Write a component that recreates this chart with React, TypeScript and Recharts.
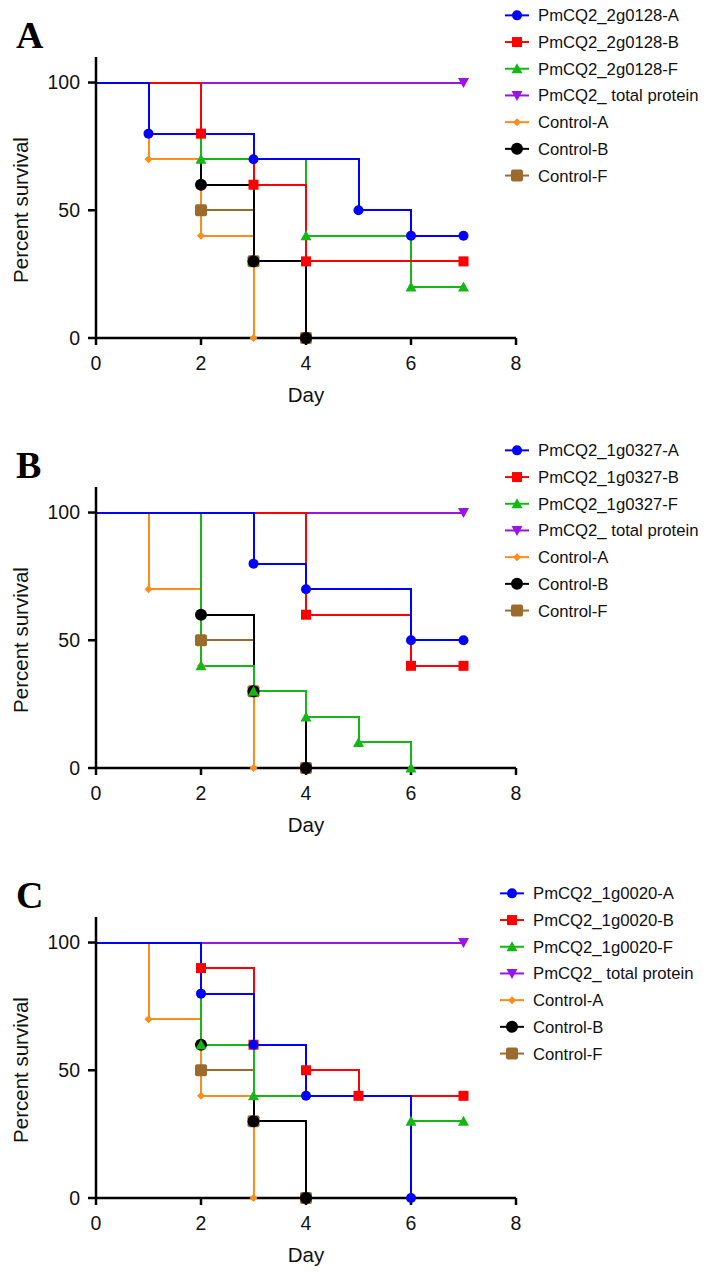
import { Legend, Line, LineChart, XAxis, YAxis } from "recharts";

const days = [0, 1, 2, 3, 4, 5, 6, 7];
const totalProtein = [100, 100, 100, 100, 100, 100, 100, 100];
const controlA = [100, 70, 40, 0, null, null, null, null];
const controlB = [100, 100, 60, 30, 0, null, null, null];
const controlF = [100, 100, 50, 30, 0, null, null, null];

const g2g0128A = [100, 80, 80, 70, 70, 50, 40, 40];
const g2g0128B = [100, 100, 80, 60, 30, 30, 30, 30];
const g2g0128F = [100, 100, 70, 70, 40, 40, 20, 20];

const g1g0327A = [100, 100, 100, 80, 70, 70, 50, 50];
const g1g0327B = [100, 100, 100, 100, 60, 60, 40, 40];
const g1g0327F = [100, 100, 40, 30, 20, 10, 0, null];

const g1g0020A = [100, 100, 80, 60, 40, 40, 0, null];
const g1g0020B = [100, 100, 90, 60, 50, 40, 40, 40];
const g1g0020F = [100, 100, 60, 40, 40, 40, 30, 30];

const xTicks = [0, 2, 4, 6, 8];
const yTicks = [0, 50, 100];

const FONT = "'Liberation Sans', Arial, sans-serif";
const W = 708;
const H = 415;
const ROW_H = 26.7;

type Shape = "circle" | "square" | "tri" | "triDown" | "diamond" | "bigCircle" | "bigSquare";

// legend order
const SERIES: { key: string; color: string; shape: Shape }[] = [
  { key: "a", color: "#0000ff", shape: "circle" },
  { key: "b", color: "#ff0000", shape: "square" },
  { key: "f", color: "#14b814", shape: "tri" },
  { key: "total", color: "#9a14e6", shape: "triDown" },
  { key: "ctrlA", color: "#ff8c1a", shape: "diamond" },
  { key: "ctrlB", color: "#000000", shape: "bigCircle" },
  { key: "ctrlF", color: "#9b6a2c", shape: "bigSquare" },
];
// draw order, bottom first
const DRAW_ORDER = ["ctrlF", "ctrlA", "ctrlB", "total", "f", "b", "a"];

const panels = [
  { letter: "A", gene: "2g0128", a: g2g0128A, b: g2g0128B, f: g2g0128F, legendLeft: 505, legendTop: 15 },
  { letter: "B", gene: "1g0327", a: g1g0327A, b: g1g0327B, f: g1g0327F, legendLeft: 505, legendTop: 20.7 },
  { letter: "C", gene: "1g0020", a: g1g0020A, b: g1g0020B, f: g1g0020F, legendLeft: 500, legendTop: 33.3 },
];

const Marker = ({ shape, x, y, color }: { shape: Shape; x: number; y: number; color: string }) => {
  switch (shape) {
    case "circle":
      return <circle cx={x} cy={y} r={5} fill={color} />;
    case "bigCircle":
      return <circle cx={x} cy={y} r={6} fill={color} />;
    case "square":
      return <rect x={x - 5} y={y - 5} width={10} height={10} fill={color} />;
    case "bigSquare":
      return <rect x={x - 6} y={y - 6} width={12} height={12} rx={2} fill={color} />;
    case "tri":
      return <polygon points={`${x},${y - 5.5} ${x + 5.5},${y + 4.5} ${x - 5.5},${y + 4.5}`} fill={color} />;
    case "triDown":
      return <polygon points={`${x},${y + 5.5} ${x + 5.5},${y - 4.5} ${x - 5.5},${y - 4.5}`} fill={color} />;
    default:
      return <polygon points={`${x},${y - 4} ${x + 4},${y} ${x},${y + 4} ${x - 4},${y}`} fill={color} />;
  }
};

// Prism style: a symbol only where the curve steps down, plus one at the end
const makeDot = (vals: (number | null)[], shape: Shape, color: string, key: string) => (p: any) => {
  const i = p.index;
  const v = vals[i];
  const k = `${key}-${i}`;
  if (v == null || i === 0 || p.cy == null) return <g key={k} />;
  let last = vals.length - 1;
  while (last > 0 && vals[last] == null) last--;
  if (v === vals[i - 1] && i !== last) return <g key={k} />;
  return <Marker key={k} shape={shape} x={p.cx} y={p.cy} color={color} />;
};

const LegendBox = ({ names }: { names: string[] }) => (
  <svg width={215} height={ROW_H * SERIES.length} style={{ display: "block" }}>
    {SERIES.map((s, i) => {
      const cy = ROW_H * (i + 0.5);
      return (
        <g key={s.key}>
          <line x1={0} x2={24} y1={cy} y2={cy} stroke={s.color} strokeWidth={2} />
          <Marker shape={s.shape} x={12} y={cy} color={s.color} />
          <text x={33} y={cy} dy="0.36em" fontSize={16.7} fontFamily={FONT} fill="#111">
            {names[i]}
          </text>
        </g>
      );
    })}
  </svg>
);

const Panel = ({ p }: { p: (typeof panels)[number] }) => {
  const cols: Record<string, (number | null)[]> = {
    a: p.a, b: p.b, f: p.f, total: totalProtein, ctrlA: controlA, ctrlB: controlB, ctrlF: controlF,
  };
  const rows = days.map((d, i) => {
    const r: Record<string, number | null> = { day: d };
    Object.keys(cols).forEach((k) => (r[k] = cols[k][i]));
    return r;
  });
  const names = [
    `PmCQ2_${p.gene}-A`, `PmCQ2_${p.gene}-B`, `PmCQ2_${p.gene}-F`,
    "PmCQ2_ total protein", "Control-A", "Control-B", "Control-F",
  ];
  const axisStyle = { stroke: "#000", strokeWidth: 2.5 };
  const tickStyle = { fill: "#111", fontSize: 19.5, fontFamily: FONT };

  return (
    <LineChart width={W} height={H} data={rows} margin={{ top: 57, right: 192, bottom: 47, left: 36 }}>
      <XAxis
        dataKey="day"
        type="number"
        domain={[0, 8]}
        ticks={xTicks}
        interval={0}
        height={30}
        tickSize={7}
        tickMargin={11}
        axisLine={axisStyle}
        tickLine={axisStyle}
        tick={tickStyle}
      />
      <YAxis
        type="number"
        domain={[0, 110]}
        ticks={yTicks}
        interval={0}
        width={60}
        tickSize={8}
        tickMargin={8}
        axisLine={axisStyle}
        tickLine={axisStyle}
        tick={tickStyle}
      />
      {DRAW_ORDER.map((k) => {
        const s = SERIES.find((x) => x.key === k)!;
        return (
          <Line
            key={k}
            type="stepAfter"
            dataKey={k}
            stroke={s.color}
            strokeWidth={2}
            shapeRendering="crispEdges"
            dot={makeDot(cols[k], s.shape, s.color, k)}
            activeDot={false}
            isAnimationActive={false}
          />
        );
      })}
      <Legend
        layout="vertical"
        align="center"
        verticalAlign="middle"
        wrapperStyle={{ left: p.legendLeft, top: p.legendTop - ROW_H / 2, width: 215 }}
        content={() => <LegendBox names={names} />}
      />
      <text x={16} y={48} fontSize={38} fontWeight="bold" fontFamily="'Liberation Serif', 'Times New Roman', serif" fill="#000">
        {p.letter}
      </text>
      <text x={306} y={402} textAnchor="middle" fontSize={20.5} fontFamily={FONT} fill="#111">
        Day
      </text>
      <text x={28} y={210} transform="rotate(-90, 28, 210)" textAnchor="middle" fontSize={20.5} fontFamily={FONT} fill="#111">
        Percent survival
      </text>
    </LineChart>
  );
};

export default function App() {
  return (
    <div style={{ position: "relative", width: W, height: 1277, margin: "-8px 0 0 -8px", background: "#fff" }}>
      {panels.map((p, i) => (
        <div key={p.letter} style={{ position: "absolute", left: 0, top: i * 430 }}>
          <Panel p={p} />
        </div>
      ))}
    </div>
  );
}
